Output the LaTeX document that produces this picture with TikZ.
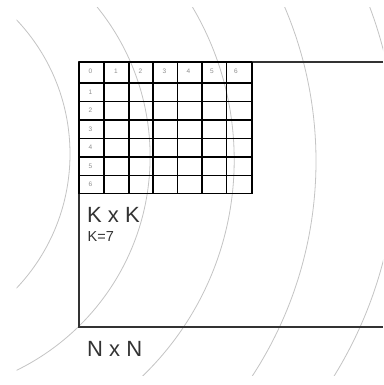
\documentclass[tikz,border=0pt]{standalone}
\usepackage{fontspec}
\setmainfont{Liberation Sans}
\definecolor{arcgray}{HTML}{C4C4C4}
\definecolor{digitgray}{HTML}{8E8E8E}
\definecolor{framegray}{HTML}{333333}
\tikzset{
  wave/.style={draw=arcgray, line width=0.8pt},
  frame/.style={draw=framegray, line width=1.2pt},
  gridline/.style={draw=black, line width=1.5pt},
  digit/.style={text=digitgray, font=\fontsize{6.5}{6.5}\selectfont, inner sep=0pt, anchor=center},
  bigtext/.style={text=framegray, font=\fontsize{22}{22}\selectfont, inner sep=0pt, anchor=base west},
  smalltext/.style={text=framegray, font=\fontsize{14.5}{14.5}\selectfont, inner sep=0pt, anchor=base west}
}
\begin{document}
\begin{tikzpicture}[x=1pt,y=-1pt]
\useasboundingbox (0,0) rectangle (383,385);
\fill[white] (0,0) rectangle (383,385);
% wavefront arcs
\begin{scope}
\clip (16.5,8) rectangle (383,375);
\draw[wave] (-125,154) circle[radius=195pt];
\draw[wave] (-87.6,156.6) circle[radius=237.7pt];
\draw[wave] (-66.5,160) circle[radius=300.7pt];
\draw[wave] (-77.8,161.2) circle[radius=393.8pt];
\draw[wave] (-24,155.3) circle[radius=420.6pt];
\end{scope}
% N x N frame
\coordinate (tl) at (79,62);
\coordinate (tr) at (383,62);
\coordinate (bl) at (79,327);
\coordinate (br) at (383,327);
\draw[frame] (tr) -- (tl) -- (bl) -- (br);
% K x K grid
\foreach \x in {79,104,129,153,177.5,202,226.5,252}
  \draw[gridline] (\x,62) -- (\x,193.5);
\foreach \y in {62,83,101.5,120,138.5,157,175.5,193.5}
  \draw[gridline] (79,\y) -- (252,\y);
% header digits
\node[digit] (c0) at (90.5,71.5) {0};
\node[digit] (c1) at (116,71.5) {1};
\node[digit] (c2) at (140.5,71.5) {2};
\node[digit] (c3) at (164.5,71.5) {3};
\node[digit] (c4) at (188.5,71.5) {4};
\node[digit] (c5) at (212,71.5) {5};
\node[digit] (c6) at (236,71.5) {6};
% row digits
\foreach \y [count=\i from 1] in {83,101.5,120,138.5,157,175.5}
  \node[digit] (r\i) at (90.5,\y+9.2) {\i};
% labels
\node[bigtext] (kxk) at (87,222) {K x K};
\node[smalltext] (k7) at (87.5,241.5) {K=7};
\node[bigtext] (nxn) at (87,356) {N x N};
\end{tikzpicture}
\end{document}
